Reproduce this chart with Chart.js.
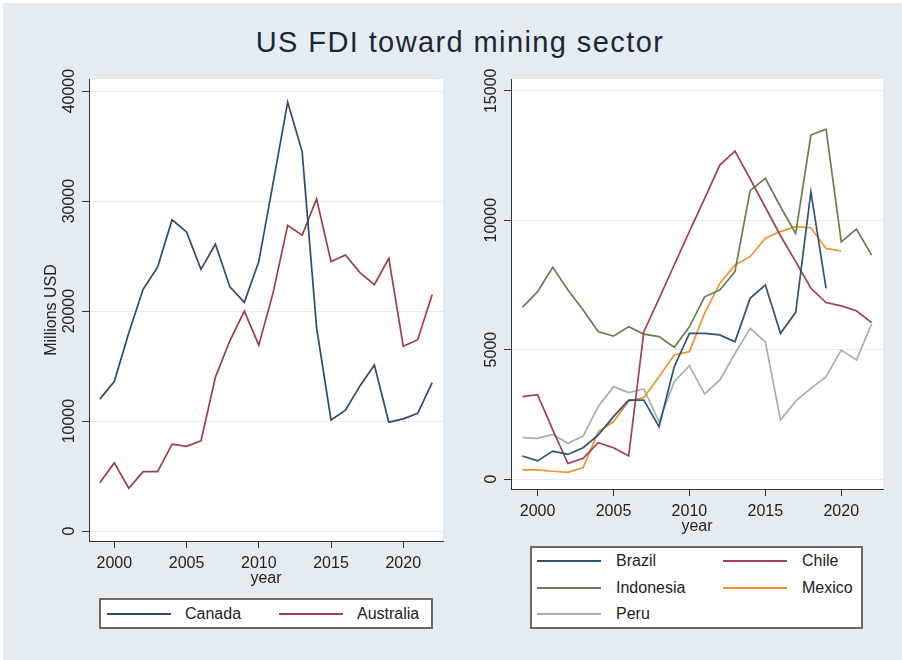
<!DOCTYPE html>
<html>
<head>
<meta charset="utf-8">
<script src="https://cdn.jsdelivr.net/npm/chart.js@4.4.1/dist/chart.umd.min.js"></script>
<style>
  html, body { margin: 0; padding: 0; background: #ffffff; }
  #page { position: absolute; left: 3px; top: 3px; width: 899px; height: 657px; background: #e5ecf1; overflow: hidden; }
  #title { position: absolute; left: 0; width: 914px; top: 23px; line-height: 32px; text-align: center;
           font: 29px "Liberation Sans", Arial, sans-serif; letter-spacing: 1.4px; color: #1b2735; }
  canvas { position: absolute; }
  .legend { position: absolute; background: #fff; border: 2px solid #6a6a6a; box-sizing: border-box; }
  .swatch { position: absolute; height: 2px; }
  .ltext { position: absolute; font: 16px "Liberation Sans", Arial, sans-serif; color: #222; line-height: 20px; }
</style>
</head>
<body>
<div id="page">
  <div id="title">US FDI toward mining sector</div>
  <canvas id="leftChart" width="450" height="530" style="left:-3px; top:57px;"></canvas>
  <canvas id="rightChart" width="452" height="530" style="left:447px; top:57px;"></canvas>
</div>
<script>
const years = [1999, 2000, 2001, 2002, 2003, 2004, 2005, 2006, 2007, 2008, 2009, 2010,
               2011, 2012, 2013, 2014, 2015, 2016, 2017, 2018, 2019, 2020, 2021, 2022];
const xTicks = [2000, 2005, 2010, 2015, 2020];

const canada    = [12000, 13600, 18000, 22000, 24000, 28300, 27200, 23800, 26100, 22200, 20800, 24500,
                   31700, 39000, 34500, 18500, 10100, 11000, 13200, 15100, 9900, 10200, 10700, 13500];
const australia = [4400, 6200, 3900, 5400, 5400, 7900, 7700, 8200, 14000, 17300, 20000, 16900,
                   21700, 27800, 26900, 30200, 24500, 25100, 23500, 22400, 24800, 16800, 17400, 21500];
const leftTicks = [0, 10000, 20000, 30000, 40000];

const brazil    = [890, 700, 1080, 950, 1210, 1700, 2410, 3050, 3050, 2020, 4340, 5630,
                   5630, 5570, 5300, 6980, 7500, 5630, 6440, 11100, 7370];
const chile     = [3180, 3260, 1900, 600, 800, 1400, 1210, 890, 5690, 6970, 8270, 9570,
                   10830, 12130, 12670, 11600, 10500, 9400, 8400, 7370, 6820, 6690, 6500, 6040];
const indonesia = [6630, 7240, 8180, 7300, 6530, 5690, 5520, 5880, 5600, 5500, 5090, 5880,
                   7040, 7300, 8010, 11140, 11620, 10520, 9490, 13290, 13520, 9160, 9660, 8650];
const mexico    = [350, 350, 300, 260, 440, 1830, 2210, 3010, 3150, 3950, 4790, 4920,
                   6400, 7560, 8270, 8590, 9300, 9560, 9750, 9710, 8910, 8810];
const peru      = [1600, 1570, 1720, 1380, 1660, 2800, 3570, 3340, 3480, 2210, 3760, 4380,
                   3290, 3820, 4850, 5820, 5300, 2280, 3010, 3500, 3950, 4980, 4600, 5990];
const rightTicks = [0, 5000, 10000, 15000];

const FONT = '"Liberation Sans", Arial, sans-serif';
const TXT = '#222';

function pts(vals) { return vals.map((v, i) => ({ x: years[i], y: v })); }

const plotBg = {
  id: 'plotBg',
  beforeDraw(chart) {
    const a = chart.chartArea, ctx = chart.ctx;
    ctx.save();
    ctx.fillStyle = '#ffffff';
    ctx.fillRect(a.left, a.top, a.right - a.left, a.bottom - a.top);
    ctx.restore();
  }
};

const rotatedYTicks = {
  id: 'rotatedYTicks',
  afterDraw(chart) {
    const s = chart.scales.y, ctx = chart.ctx;
    ctx.save();
    ctx.fillStyle = TXT;
    ctx.font = '16px ' + FONT;
    ctx.textAlign = 'center';
    ctx.textBaseline = 'middle';
    s.ticks.forEach(t => {
      ctx.save();
      ctx.translate(s.right - 20, s.getPixelForValue(t.value));
      ctx.rotate(-Math.PI / 2);
      ctx.fillText(String(t.value), 0, 1);
      ctx.restore();
    });
    ctx.restore();
  }
};

function makeOptions(cfg) {
  return {
    responsive: false,
    devicePixelRatio: 1,
    animation: false,
    layout: { padding: cfg.padding },
    plugins: { legend: { display: false }, tooltip: { enabled: false } },
    elements: { point: { radius: 0 }, line: { borderWidth: 1.7, tension: 0 } },
    scales: {
      x: {
        type: 'linear',
        min: 1998.25, max: 2022.75,
        afterBuildTicks: s => { s.ticks = xTicks.map(v => ({ value: v })); },
        afterFit: s => { s.height = 47; },
        ticks: { color: TXT, font: { family: FONT, size: 16 }, padding: 6, maxRotation: 0,
                 callback: v => String(v) },
        grid: { drawOnChartArea: false, drawTicks: true, tickLength: 7, tickColor: '#333' },
        border: { color: '#333', width: 1 },
        title: { display: true, text: 'year', color: TXT, font: { family: FONT, size: 16 },
                 padding: { top: 0, bottom: 0 } }
      },
      y: {
        min: cfg.ymin, max: cfg.ymax,
        afterBuildTicks: s => { s.ticks = cfg.yTicks.map(v => ({ value: v })); },
        afterFit: s => { s.width = cfg.yWidth; },
        ticks: { display: false },
        grid: { color: '#e9ecee', lineWidth: 1, drawTicks: true, tickLength: 7, tickColor: '#333' },
        border: { color: '#333', width: 1 },
        title: cfg.yTitle ? { display: true, text: cfg.yTitle, color: TXT,
                 font: { family: FONT, size: 16 }, padding: { top: 42, bottom: 0 } } : { display: false }
      }
    }
  };
}

new Chart(document.getElementById('leftChart'), {
  type: 'line',
  data: {
    datasets: [
      { label: 'Canada', data: pts(canada), borderColor: '#2a4c70' },
      { label: 'Australia', data: pts(australia), borderColor: '#9b3e48' }
    ]
  },
  options: makeOptions({ padding: { left: 0, top: 19, right: 7, bottom: 2 },
                         ymin: -900, ymax: 41100, yTicks: leftTicks, yWidth: 89, yTitle: 'Millions USD' }),
  plugins: [plotBg, rotatedYTicks]
});

new Chart(document.getElementById('rightChart'), {
  type: 'line',
  data: {
    datasets: [
      { label: 'Brazil', data: pts(brazil), borderColor: '#2d5379' },
      { label: 'Chile', data: pts(chile), borderColor: '#a2404f' },
      { label: 'Indonesia', data: pts(indonesia), borderColor: '#66804a' },
      { label: 'Mexico', data: pts(mexico), borderColor: '#ef942a' },
      { label: 'Peru', data: pts(peru), borderColor: '#a0b2ab' }
    ]
  },
  options: makeOptions({ padding: { left: 0, top: 19, right: 19, bottom: 54 },
                         ymin: -386, ymax: 15456, yTicks: rightTicks, yWidth: 61, yTitle: null }),
  plugins: [plotBg, rotatedYTicks]
});

// legends (page coordinates, offset by the 3px page margin)
const page = document.getElementById('page');
function box(l, t, w, h) {
  const d = document.createElement('div');
  d.className = 'legend';
  d.style.left = (l - 3) + 'px'; d.style.top = (t - 3) + 'px';
  d.style.width = w + 'px'; d.style.height = h + 'px';
  page.appendChild(d);
}
function entry(label, color, lineX, textX, y) {
  const s = document.createElement('div');
  s.className = 'swatch';
  s.style.left = (lineX - 3) + 'px'; s.style.top = (y - 4) + 'px';
  s.style.width = '64px'; s.style.background = color;
  page.appendChild(s);
  const t = document.createElement('div');
  t.className = 'ltext';
  t.textContent = label;
  t.style.left = (textX - 3) + 'px'; t.style.top = (y - 13) + 'px';
  page.appendChild(t);
}
box(99, 598, 334, 31);
entry('Canada', '#2a4c70', 107, 185, 614);
entry('Australia', '#9b3e48', 279, 357, 614);

box(530, 546, 333, 83);
entry('Brazil', '#2d5379', 537, 616, 561);
entry('Chile', '#a2404f', 723, 802, 561);
entry('Indonesia', '#66804a', 537, 616, 588);
entry('Mexico', '#ef942a', 723, 802, 588);
entry('Peru', '#a0b2ab', 537, 616, 614);
</script>
</body>
</html>
